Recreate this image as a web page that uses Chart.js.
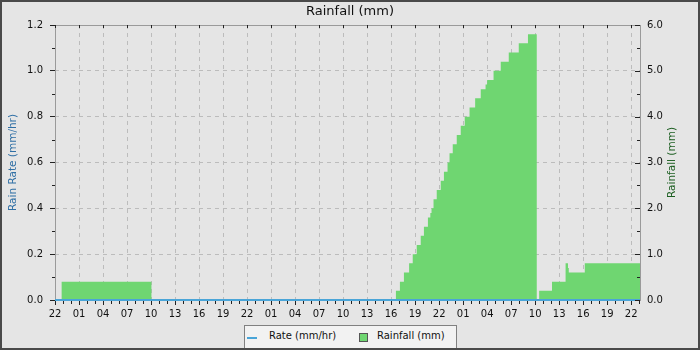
<!DOCTYPE html>
<html>
<head>
<meta charset="utf-8">
<script src="https://cdn.jsdelivr.net/npm/chart.js@4/dist/chart.umd.min.js"></script>
<style>
body{margin:0;background:#fff}
#wrap{position:relative;width:700px;height:350px;box-sizing:border-box;border:2px solid #4a4a4a;background:#e5e5e5;overflow:hidden;font-family:"DejaVu Sans",sans-serif}
#legend{position:absolute;left:242px;top:323px;width:211px;height:22px;background:#f2f2f2;border:1px solid #808080;font-size:10px;color:#111}
#legend .ln{position:absolute;left:2px;top:11px;width:10px;height:2px;background:#4aa5d8}
#legend .sq{position:absolute;left:114px;top:7px;width:7px;height:7px;background:#6fd671;border:1px solid #555}
#legend .t{position:absolute;top:4px;line-height:12px;white-space:nowrap}
</style>
</head>
<body>
<div id="wrap">
  <canvas id="rainChart" width="696" height="346"></canvas>
  <div id="legend">
    <div class="ln"></div><div class="t" style="left:24px">Rate (mm/hr)</div>
    <div class="sq"></div><div class="t" style="left:132px">Rainfall (mm)</div>
  </div>
</div>
<script>
// hours counted from 22:00 on the first day
const xTickLabels=['22','01','04','07','10','13','16','19','22','01','04','07','10','13','16','19','22','01','04','07','10','13','16','19','22'];
const xMax=73.1;

const rainHours=[0.8,12.05,42.6,43.1,43.6,44.25,44.7,45.2,45.7,46.1,46.6,46.9,47.05,47.3,47.7,48.2,48.6,49.05,49.3,49.7,50.2,50.7,51.2,51.8,52.5,53.2,53.8,54.0,54.8,55.7,56.7,57.95,59.1,60.2,60.5,62.1,63.8,64.1,64.2,66.2,73.1];
const rainMm=[0.4,0,0.2,0.4,0.6,0.8,1.0,1.2,1.4,1.6,1.8,1.9,2.0,2.2,2.4,2.6,2.8,3.0,3.2,3.4,3.6,3.8,4.0,4.2,4.4,4.6,4.7,4.8,5.0,5.2,5.4,5.6,5.8,0,0.2,0.4,0.8,0.7,0.6,0.8,0.8];

const rateHours=[0,73.1];
const rateVals=[0,0];

Chart.defaults.font.family='"DejaVu Sans", sans-serif';
Chart.defaults.font.size=10;
Chart.defaults.color='#111';

// frame under the data, minor ticks + right/top ticks + right title on top
const frameTicks={
  id:'frameTicks',
  beforeDatasetsDraw(chart){
    const {ctx,chartArea:a}=chart;
    ctx.save();
    ctx.strokeStyle='#9a9a9a';ctx.lineWidth=1;
    ctx.strokeRect(Math.round(a.left)+0.5,Math.round(a.top)+0.5,Math.round(a.right-a.left),Math.round(a.bottom-a.top));
    ctx.restore();
  },
  afterDraw(chart){
    const {ctx,chartArea:a,scales}=chart;
    const x=scales.x,yL=scales.y,yR=scales.yR;
    ctx.save();
    ctx.strokeStyle='#222';ctx.lineWidth=1;
    ctx.beginPath();
    for(let h=0;h<=73;h++){
      const px=Math.round(x.getPixelForValue(h))+0.5;
      if(h%3){ctx.moveTo(px,a.bottom+1);ctx.lineTo(px,a.bottom+4);}
      else{ctx.moveTo(px,a.top);ctx.lineTo(px,a.top+3);}
    }
    for(let i=1;i<12;i+=2){
      const py=Math.round(yL.getPixelForValue(i/10))+0.5;
      ctx.moveTo(a.left-3,py);ctx.lineTo(a.left,py);
    }
    for(let i=0;i<=12;i++){
      const py=Math.round(yR.getPixelForValue(i/2))+0.5;
      ctx.moveTo(a.right-(i%2?3:5),py);ctx.lineTo(a.right,py);
    }
    ctx.stroke();
    ctx.translate(670,(a.top+a.bottom)/2);
    ctx.rotate(-Math.PI/2);
    ctx.fillStyle='#1b5e20';
    ctx.font='10.5px "DejaVu Sans", sans-serif';
    ctx.textAlign='center';ctx.textBaseline='middle';
    ctx.fillText('Rainfall (mm)',0,0);
    ctx.restore();
  }
};

new Chart(document.getElementById('rainChart'),{
  type:'line',
  data:{datasets:[
    {label:'Rate (mm/hr)',data:rateHours.map((h,i)=>({x:h,y:rateVals[i]})),yAxisID:'y',borderColor:'#4aa5d8',borderWidth:2,pointRadius:0,clip:false,order:1},
    {label:'Rainfall (mm)',data:rainHours.map((h,i)=>({x:h,y:rainMm[i]})),yAxisID:'yR',stepped:true,fill:'origin',backgroundColor:'#6fd671',borderColor:'rgba(0,0,0,0)',borderWidth:0,pointRadius:0,order:2}
  ]},
  options:{
    responsive:false,animation:false,devicePixelRatio:1,
    layout:{padding:{bottom:26}},
    plugins:{
      legend:{display:false},tooltip:{enabled:false},
      title:{display:true,text:'Rainfall (mm)',color:'#111',font:{size:13,weight:'normal'},padding:{top:2,bottom:5.4}}
    },
    scales:{
      x:{type:'linear',min:0,max:xMax,
        afterFit:s=>{s.height=22;},
        ticks:{stepSize:3,includeBounds:false,autoSkip:false,maxRotation:0,padding:3,color:'#111',
          callback:v=>v%3===0?xTickLabels[Math.round(v/3)]:''},
        grid:{color:'#bcbcbc',tickColor:'#222',tickLength:5},
        border:{display:false,dash:[4,4]}},
      y:{position:'left',min:0,max:1.2,
        afterFit:s=>{s.width=53;},
        ticks:{stepSize:0.2,padding:7,color:'#111',callback:v=>v.toFixed(1)},
        grid:{color:'#bcbcbc',tickColor:'#222',tickLength:5},
        border:{display:false,dash:[4,4]},
        title:{display:true,text:'Rain Rate (mm/hr)',color:'#2f6fa5',font:{size:10.5},padding:{top:5}}},
      yR:{position:'right',min:0,max:6,
        afterFit:s=>{s.width=58;},
        ticks:{stepSize:1,padding:7,color:'#111',callback:v=>v.toFixed(1)},
        grid:{drawOnChartArea:false,drawTicks:false},
        border:{display:false}}
    }
  },
  plugins:[frameTicks]
});
</script>
</body>
</html>
